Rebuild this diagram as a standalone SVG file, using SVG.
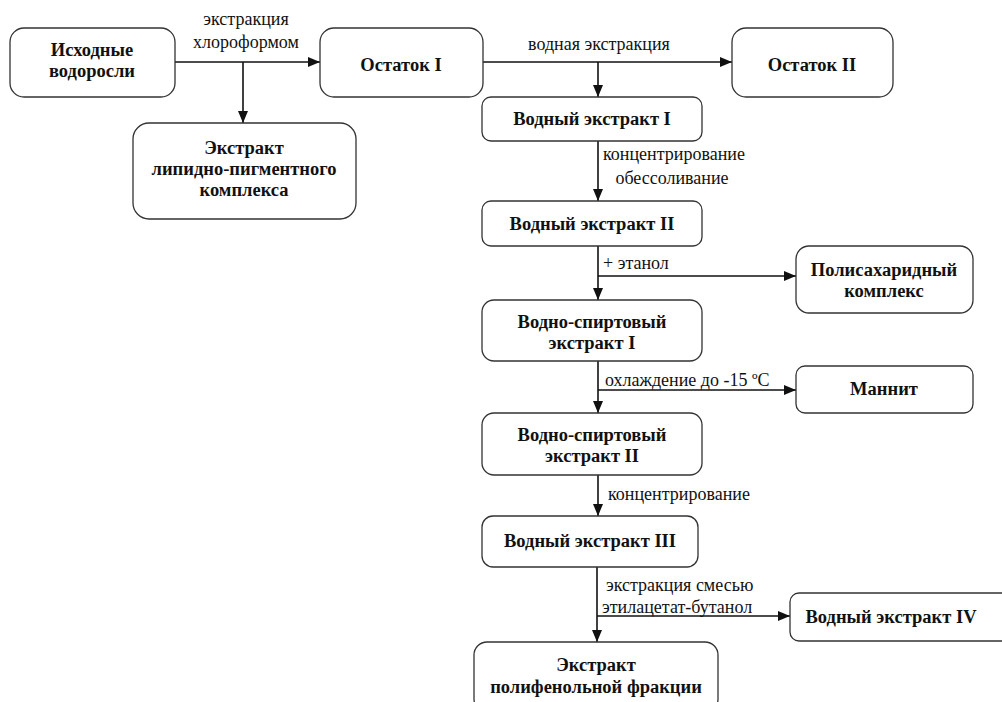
<svg xmlns="http://www.w3.org/2000/svg" width="1002" height="702" viewBox="0 0 1002 702">
<defs>
<marker id="ah" viewBox="0 0 12 10" refX="12" refY="5" markerWidth="12" markerHeight="10" markerUnits="userSpaceOnUse" orient="auto">
<path d="M0,0 L12,5 L0,10 Z" fill="#111"/>
</marker>
</defs>
<rect width="1002" height="702" fill="#fff"/>
<g id="connectors">
<g fill="none" stroke="#111" stroke-width="1.6">
<path d="M175,62 H320" marker-end="url(#ah)"/>
<path d="M243,62 V123" marker-end="url(#ah)"/>
<path d="M483,62 H732" marker-end="url(#ah)"/>
<path d="M598,62 V97" marker-end="url(#ah)"/>
<path d="M598,141 V201" marker-end="url(#ah)"/>
<path d="M598,246 V300" marker-end="url(#ah)"/>
<path d="M598,276 H796" marker-end="url(#ah)"/>
<path d="M598,361 V413" marker-end="url(#ah)"/>
<path d="M598,390 H796" marker-end="url(#ah)"/>
<path d="M598,475 V516" marker-end="url(#ah)"/>
<path d="M597,567 V642" marker-end="url(#ah)"/>
<path d="M597,616 H790" marker-end="url(#ah)"/>
</g>
<g font-family="Liberation Serif" font-size="18" fill="#111">
<text x="246" y="25" text-anchor="middle">экстракция</text>
<text x="246" y="48" text-anchor="middle">хлороформом</text>
<text x="599" y="50" text-anchor="middle">водная экстракция</text>
<text x="603" y="160">концентрирование</text>
<text x="672" y="184" text-anchor="middle">обессоливание</text>
<text x="603" y="269">+ этанол</text>
<text x="605" y="386">охлаждение до -15 ºC</text>
<text x="608" y="500">концентрирование</text>
<text x="606" y="591">экстракция смесью</text>
<text x="602" y="613">этилацетат-бутанол</text>
</g>
</g>
<g font-family="Liberation Serif" font-weight="bold" font-size="18.5" fill="#111" text-anchor="middle">
<g id="n1"><rect x="10" y="28" width="165" height="69" rx="14" fill="#fff" stroke="#333" stroke-width="1.3"/><text x="92" y="56">Исходные</text><text x="92" y="77">водоросли</text></g>
<g id="n2"><rect x="320" y="28" width="163" height="69" rx="14" fill="#fff" stroke="#333" stroke-width="1.3"/><text x="401" y="71">Остаток I</text></g>
<g id="n3"><rect x="133" y="123" width="223" height="96" rx="16" fill="#fff" stroke="#333" stroke-width="1.3"/><text x="244" y="154">Экстракт</text><text x="244" y="175">липидно-пигментного</text><text x="244" y="196">комплекса</text></g>
<g id="n4"><rect x="732" y="28" width="161" height="69" rx="14" fill="#fff" stroke="#333" stroke-width="1.3"/><text x="812" y="71">Остаток II</text></g>
<g id="n5"><rect x="482" y="97" width="220" height="44" rx="9" fill="#fff" stroke="#333" stroke-width="1.3"/><text x="592" y="125">Водный экстракт I</text></g>
<g id="n6"><rect x="482" y="201" width="220" height="45" rx="9" fill="#fff" stroke="#333" stroke-width="1.3"/><text x="592" y="230">Водный экстракт II</text></g>
<g id="n7"><rect x="796" y="246" width="177" height="67" rx="13" fill="#fff" stroke="#333" stroke-width="1.3"/><text x="884" y="276">Полисахаридный</text><text x="884" y="297">комплекс</text></g>
<g id="n8"><rect x="482" y="300" width="220" height="61" rx="12" fill="#fff" stroke="#333" stroke-width="1.3"/><text x="592" y="328">Водно-спиртовый</text><text x="592" y="349">экстракт I</text></g>
<g id="n9"><rect x="796" y="366" width="177" height="47" rx="9" fill="#fff" stroke="#333" stroke-width="1.3"/><text x="884" y="395">Маннит</text></g>
<g id="n10"><rect x="482" y="413" width="220" height="62" rx="12" fill="#fff" stroke="#333" stroke-width="1.3"/><text x="592" y="441">Водно-спиртовый</text><text x="592" y="462">экстракт II</text></g>
<g id="n11"><rect x="482" y="516" width="216" height="51" rx="11" fill="#fff" stroke="#333" stroke-width="1.3"/><text x="590" y="547">Водный экстракт III</text></g>
<g id="n12"><rect x="790" y="593" width="222" height="48" rx="9" fill="#fff" stroke="#333" stroke-width="1.3"/><text x="891" y="623">Водный экстракт IV</text></g>
<g id="n13"><rect x="474" y="642" width="244" height="70" rx="13" fill="#fff" stroke="#333" stroke-width="1.3"/><text x="596" y="671">Экстракт</text><text x="596" y="693">полифенольной фракции</text></g>
</g>
</svg>
